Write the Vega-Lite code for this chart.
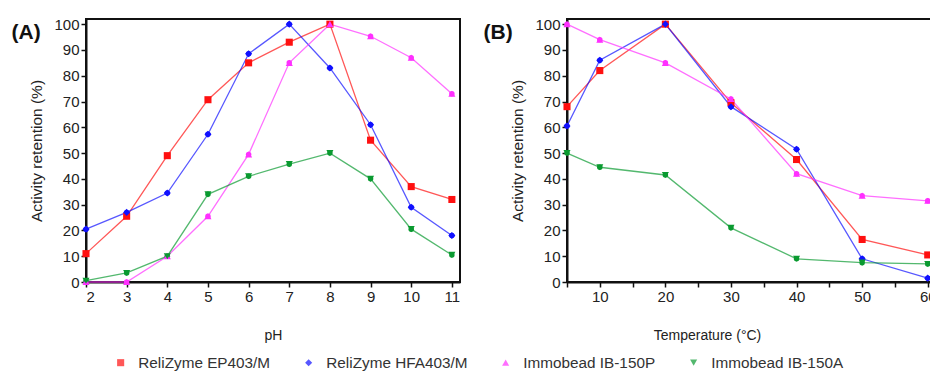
{
  "$schema": "https://vega.github.io/schema/vega-lite/v6.json",
  "padding": {"left": 10, "top": 16, "right": 0, "bottom": 0},
  "spacing": 21,
  "config": {
    "font": "Liberation Sans",
    "view": {"stroke": "#111", "strokeWidth": 2},
    "axis": {
      "grid": false,
      "domainColor": "#111",
      "domainWidth": 2,
      "tickColor": "#111",
      "tickWidth": 1.5,
      "tickSize": 5,
      "labelFont": "Liberation Sans",
      "labelFontSize": 15,
      "labelColor": "#222",
      "titleFont": "Liberation Sans",
      "titleFontWeight": "normal",
      "titleColor": "#222"
    },
    "axisX": {"titleFontSize": 14},
    "axisY": {"titleFontSize": 15.5},
    "title": {"font": "Liberation Sans", "fontSize": 21, "fontWeight": "bold", "color": "#111"},
    "legend": {"labelFont": "Liberation Sans", "labelFontSize": 15.3, "labelColor": "#333"}
  },
  "datasets": {
    "ph": [
      {"x": 2, "y": 11, "s": "ReliZyme EP403/M"},
      {"x": 3, "y": 25.5, "s": "ReliZyme EP403/M"},
      {"x": 4, "y": 49, "s": "ReliZyme EP403/M"},
      {"x": 5, "y": 70.7, "s": "ReliZyme EP403/M"},
      {"x": 6, "y": 85, "s": "ReliZyme EP403/M"},
      {"x": 7, "y": 93, "s": "ReliZyme EP403/M"},
      {"x": 8, "y": 100, "s": "ReliZyme EP403/M"},
      {"x": 9, "y": 55, "s": "ReliZyme EP403/M"},
      {"x": 10, "y": 37, "s": "ReliZyme EP403/M"},
      {"x": 11, "y": 32, "s": "ReliZyme EP403/M"},
      {"x": 2, "y": 20.5, "s": "ReliZyme HFA403/M"},
      {"x": 3, "y": 27, "s": "ReliZyme HFA403/M"},
      {"x": 4, "y": 34.5, "s": "ReliZyme HFA403/M"},
      {"x": 5, "y": 57.3, "s": "ReliZyme HFA403/M"},
      {"x": 6, "y": 88.5, "s": "ReliZyme HFA403/M"},
      {"x": 7, "y": 100, "s": "ReliZyme HFA403/M"},
      {"x": 8, "y": 83, "s": "ReliZyme HFA403/M"},
      {"x": 9, "y": 61, "s": "ReliZyme HFA403/M"},
      {"x": 10, "y": 29, "s": "ReliZyme HFA403/M"},
      {"x": 11, "y": 18, "s": "ReliZyme HFA403/M"},
      {"x": 2, "y": 0, "s": "Immobead IB-150P"},
      {"x": 3, "y": 0, "s": "Immobead IB-150P"},
      {"x": 4, "y": 10, "s": "Immobead IB-150P"},
      {"x": 5, "y": 25.5, "s": "Immobead IB-150P"},
      {"x": 6, "y": 49.5, "s": "Immobead IB-150P"},
      {"x": 7, "y": 85, "s": "Immobead IB-150P"},
      {"x": 8, "y": 100, "s": "Immobead IB-150P"},
      {"x": 9, "y": 95.3, "s": "Immobead IB-150P"},
      {"x": 10, "y": 87, "s": "Immobead IB-150P"},
      {"x": 11, "y": 73, "s": "Immobead IB-150P"},
      {"x": 2, "y": 0.5, "s": "Immobead IB-150A"},
      {"x": 3, "y": 3.5, "s": "Immobead IB-150A"},
      {"x": 4, "y": 10, "s": "Immobead IB-150A"},
      {"x": 5, "y": 34, "s": "Immobead IB-150A"},
      {"x": 6, "y": 41, "s": "Immobead IB-150A"},
      {"x": 7, "y": 45.7, "s": "Immobead IB-150A"},
      {"x": 8, "y": 50, "s": "Immobead IB-150A"},
      {"x": 9, "y": 40, "s": "Immobead IB-150A"},
      {"x": 10, "y": 20.5, "s": "Immobead IB-150A"},
      {"x": 11, "y": 10.5, "s": "Immobead IB-150A"}
    ],
    "temp": [
      {"x": 5, "y": 68, "s": "ReliZyme EP403/M"},
      {"x": 10, "y": 82, "s": "ReliZyme EP403/M"},
      {"x": 20, "y": 100, "s": "ReliZyme EP403/M"},
      {"x": 30, "y": 69.5, "s": "ReliZyme EP403/M"},
      {"x": 40, "y": 47.5, "s": "ReliZyme EP403/M"},
      {"x": 50, "y": 16.5, "s": "ReliZyme EP403/M"},
      {"x": 60, "y": 10.5, "s": "ReliZyme EP403/M"},
      {"x": 5, "y": 60.5, "s": "ReliZyme HFA403/M"},
      {"x": 10, "y": 86, "s": "ReliZyme HFA403/M"},
      {"x": 20, "y": 100, "s": "ReliZyme HFA403/M"},
      {"x": 30, "y": 68, "s": "ReliZyme HFA403/M"},
      {"x": 40, "y": 51.5, "s": "ReliZyme HFA403/M"},
      {"x": 50, "y": 9, "s": "ReliZyme HFA403/M"},
      {"x": 60, "y": 1.5, "s": "ReliZyme HFA403/M"},
      {"x": 5, "y": 100, "s": "Immobead IB-150P"},
      {"x": 10, "y": 94, "s": "Immobead IB-150P"},
      {"x": 20, "y": 85, "s": "Immobead IB-150P"},
      {"x": 30, "y": 71, "s": "Immobead IB-150P"},
      {"x": 40, "y": 42, "s": "Immobead IB-150P"},
      {"x": 50, "y": 33.5, "s": "Immobead IB-150P"},
      {"x": 60, "y": 31.5, "s": "Immobead IB-150P"},
      {"x": 5, "y": 50, "s": "Immobead IB-150A"},
      {"x": 10, "y": 44.5, "s": "Immobead IB-150A"},
      {"x": 20, "y": 41.5, "s": "Immobead IB-150A"},
      {"x": 30, "y": 21, "s": "Immobead IB-150A"},
      {"x": 40, "y": 9, "s": "Immobead IB-150A"},
      {"x": 50, "y": 7.5, "s": "Immobead IB-150A"},
      {"x": 60, "y": 7, "s": "Immobead IB-150A"}
    ]
  },
  "hconcat": [
    {
      "width": 374,
      "height": 263,
      "title": {"text": "(A)", "anchor": "start", "frame": "bounds", "dx": -18, "dy": 30},
      "data": {"name": "ph"},
      "encoding": {
        "x": {"field": "x", "type": "quantitative", "title": "pH",
              "scale": {"domain": [2, 11.2], "nice": false, "zero": false},
              "axis": {"values": [2,3,4,5,6,7,8,9,10,11], "titlePadding": 24}},
        "y": {"field": "y", "type": "quantitative", "title": "Activity retention (%)",
              "scale": {"domain": [0, 102], "nice": false},
              "axis": {"values": [0,10,20,30,40,50,60,70,80,90,100], "titlePadding": 9.5}},
        "color": {"field": "s", "type": "nominal", "title": null,
                  "scale": {"domain": ["ReliZyme EP403/M", "ReliZyme HFA403/M", "Immobead IB-150P", "Immobead IB-150A"],
                            "range": ["#ff1010", "#1010ff", "#ff30ff", "#0a9a30"]},
                  "legend": {"orient": "none", "legendX": 27, "legendY": 336, "direction": "horizontal", "columns": 4,
                             "columnPadding": 30, "labelOffset": 10, "symbolSize": 50, "symbolStrokeWidth": 0, "symbolOpacity": 1}},
        "shape": {"field": "s", "type": "nominal", "title": null,
                  "scale": {"domain": ["ReliZyme EP403/M", "ReliZyme HFA403/M", "Immobead IB-150P", "Immobead IB-150A"],
                            "range": ["square", "diamond", "triangle-up", "triangle-down"]}}
      },
      "layer": [
        {"mark": {"type": "line", "strokeWidth": 1.3, "opacity": 0.7}, "encoding": {"shape": {"value": null}}},
        {"mark": {"type": "point", "filled": true, "size": 50, "opacity": 1}}
      ]
    },
    {
      "width": 364,
      "height": 263,
      "title": {"text": "(B)", "anchor": "start", "frame": "bounds", "dx": -27, "dy": 30},
      "data": {"name": "temp"},
      "encoding": {
        "x": {"field": "x", "type": "quantitative", "title": "Temperature (°C)",
              "scale": {"domain": [5, 60.5], "nice": false, "zero": false},
              "axis": {"values": [5,10,15,20,25,30,35,40,45,50,55,60], "labelExpr": "datum.value % 10 === 0 ? datum.label : ''", "titlePadding": 24, "titleX": 140}},
        "y": {"field": "y", "type": "quantitative", "title": "Activity retention (%)",
              "scale": {"domain": [0, 102], "nice": false},
              "axis": {"values": [0,10,20,30,40,50,60,70,80,90,100], "titlePadding": 9.5}},
        "color": {"field": "s", "type": "nominal", "title": null,
                  "scale": {"domain": ["ReliZyme EP403/M", "ReliZyme HFA403/M", "Immobead IB-150P", "Immobead IB-150A"],
                            "range": ["#ff1010", "#1010ff", "#ff30ff", "#0a9a30"]}},
        "shape": {"field": "s", "type": "nominal", "title": null,
                  "scale": {"domain": ["ReliZyme EP403/M", "ReliZyme HFA403/M", "Immobead IB-150P", "Immobead IB-150A"],
                            "range": ["square", "diamond", "triangle-up", "triangle-down"]}}
      },
      "layer": [
        {"mark": {"type": "line", "strokeWidth": 1.3, "opacity": 0.7}, "encoding": {"shape": {"value": null}}},
        {"mark": {"type": "point", "filled": true, "size": 50, "opacity": 1}}
      ]
    }
  ]
}
